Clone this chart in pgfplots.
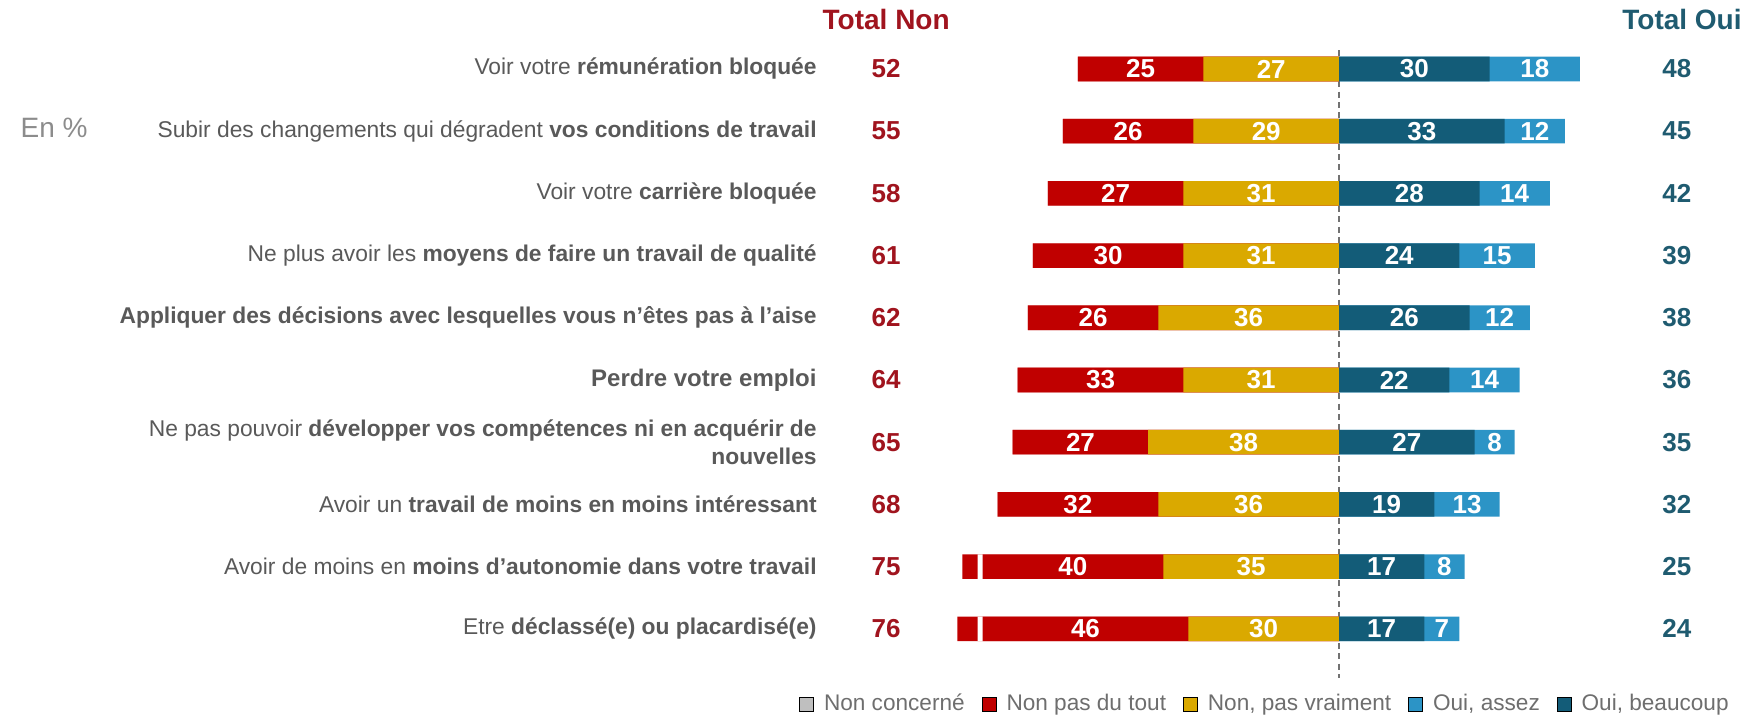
\documentclass[border=0pt]{standalone}
\usepackage{fontspec}
\setmainfont{Liberation Sans}
\usepackage{pgfplots}
\pgfplotsset{compat=1.18}
\usepackage{pgfplotstable}

\definecolor{cRed}{HTML}{C00000}
\definecolor{cGold}{HTML}{DAA900}
\definecolor{cDark}{HTML}{135C78}
\definecolor{cLight}{HTML}{2C94C6}
\definecolor{cNon}{HTML}{A0141E}
\definecolor{cOui}{HTML}{1F5B70}
\definecolor{cTxt}{HTML}{595959}
\definecolor{cLeg}{HTML}{6E6E6E}
\definecolor{cGray}{HTML}{BFBFBF}

% row: position from top; npdt = Non pas du tout; npv = Non, pas vraiment;
% obeau = Oui, beaucoup; oassez = Oui, assez; split = small outer piece of the red bar
\pgfplotstableread{
row npdt npv obeau oassez totnon totoui split gap
1  25 27 30 18 52 48 0 0
2  26 29 33 12 55 45 0 0
3  27 31 28 14 58 42 0 0
4  30 31 24 15 61 39 0 0
5  26 36 26 12 62 38 0 0
6  33 31 22 14 64 36 0 0
7  27 38 27  8 65 35 0 0
8  32 36 19 13 68 32 0 0
9  40 35 17  8 75 25 3 1
10 46 30 17  7 76 24 4 1
}\data

\begin{document}
\begin{tikzpicture}
\begin{axis}[
  scale only axis,
  width=872pt, height=358.5pt,
  xmin=-266.73, xmax=80.68,
  ymin=-0.109, ymax=11.418,
  y dir=reverse,
  axis line style={draw=none},
  xtick=\empty,
  ytick={1,2,3,4,5,6,7,8,9,10},
  yticklabels={
    {Voir votre \textbf{rémunération bloquée}},
    {Subir des changements qui dégradent \textbf{vos conditions de travail}},
    {Voir votre \textbf{carrière bloquée}},
    {Ne plus avoir les \textbf{moyens de faire un travail de qualité}},
    {\textbf{Appliquer des décisions avec lesquelles vous n’êtes pas à l’aise}},
    {\fontsize{12}{14}\selectfont\textbf{Perdre votre emploi}},
    {Ne pas pouvoir \textbf{développer vos compétences ni en acquérir de}\\\textbf{nouvelles}},
    {Avoir un \textbf{travail de moins en moins intéressant}},
    {Avoir de moins en \textbf{moins d’autonomie dans votre travail}},
    {Etre \textbf{déclassé(e) ou placardisé(e)}}
  },
  major tick length=0pt,
  ytick style={draw=none},
  yticklabel style={anchor=east, align=right, inner sep=0pt, xshift=408.5pt,
    font=\fontsize{11.4}{14}\selectfont, text=cTxt},
  clip=false,
  bar width=12.3pt,
  /pgf/number format/assume math mode=true,
  every node near coord/.append style={anchor=center},
  legend columns=5,
  legend image code/.code={\fill[#1] (0pt,-3.5pt) rectangle (7pt,3.5pt);},
  legend style={draw=none, fill=none, inner sep=0pt, at={(axis cs:77.7,11.209)}, anchor=east,
    font=\fontsize{11.3}{13}\selectfont, text=cLeg,
    nodes={inner sep=0pt},
    /tikz/every odd column/.append style={column sep=5pt},
    /tikz/every even column/.append style={column sep=8.5pt},
    /tikz/column 8/.append style={column sep=25pt}},
]
% centre line
\draw[cTxt!85, line width=0.9pt, dash pattern=on 3pt off 2.2pt] (axis cs:0,0.695) -- (axis cs:0,10.79);

% left side (layered from 0)
\addplot[xbar, bar shift=0pt, fill=cRed, draw=none, forget plot]
  table[x expr=-\thisrow{totnon}, y=row]{\data};
\addplot[xbar, bar shift=0pt, fill=white, draw=none, forget plot]
  table[x expr=-(\thisrow{totnon}-\thisrow{split}), y=row]{\data};
\addplot[xbar, bar shift=0pt, fill=cRed, draw=none, forget plot]
  table[x expr=-(\thisrow{totnon}-\thisrow{split}-\thisrow{gap}), y=row]{\data};
\addplot[xbar, bar shift=0pt, fill=cGold, draw=none, forget plot]
  table[x expr=-\thisrow{npv}, y=row]{\data};
% right side
\addplot[xbar, bar shift=0pt, fill=cLight, draw=none, forget plot]
  table[x expr=\thisrow{obeau}+\thisrow{oassez}, y=row]{\data};
\addplot[xbar, bar shift=0pt, fill=cDark, draw=none, forget plot]
  table[x expr=\thisrow{obeau}, y=row]{\data};

% segment labels
\pgfplotsset{every node near coord/.append style={font=\bfseries\fontsize{13}{15}\selectfont, text=white}}
\addplot[draw=none, forget plot, nodes near coords, point meta=explicit]
  table[x expr=-(\thisrow{npv}+(\thisrow{npdt}-\thisrow{split}-\thisrow{gap})/2), y=row, meta=npdt]{\data};
\addplot[draw=none, forget plot, nodes near coords, point meta=explicit]
  table[x expr=-\thisrow{npv}/2, y=row, meta=npv]{\data};
\addplot[draw=none, forget plot, nodes near coords, point meta=explicit]
  table[x expr=\thisrow{obeau}/2, y=row, meta=obeau]{\data};
\addplot[draw=none, forget plot, nodes near coords, point meta=explicit]
  table[x expr=\thisrow{obeau}+\thisrow{oassez}/2, y=row, meta=oassez]{\data};
% totals
\addplot[draw=none, forget plot, nodes near coords, point meta=explicit,
  every node near coord/.append style={text=cNon}]
  table[x expr=-90.2, y=row, meta=totnon]{\data};
\addplot[draw=none, forget plot, nodes near coords, point meta=explicit,
  every node near coord/.append style={text=cOui}]
  table[x expr=67.3, y=row, meta=totoui]{\data};

% headers
\node[font=\bfseries\fontsize{14}{16}\selectfont, text=cNon] at (axis cs:-90.2,0.212) {Total Non};
\node[font=\bfseries\fontsize{14}{16}\selectfont, text=cOui, anchor=east, inner xsep=1pt] at (axis cs:80.68,0.212) {Total Oui};
\node[anchor=west, inner sep=0pt, font=\fontsize{14}{16}\selectfont, text=gray!90] at (axis cs:-262.7,1.949) {En \%};

% legend
\addlegendimage{fill=cGray}
\addlegendentry{Non concerné}
\addlegendimage{fill=cRed}
\addlegendentry{Non pas du tout}
\addlegendimage{fill=cGold}
\addlegendentry{Non, pas vraiment}
\addlegendimage{fill=cLight}
\addlegendentry{Oui, assez}
\addlegendimage{fill=cDark}
\addlegendentry{Oui, beaucoup}
\end{axis}
\end{tikzpicture}
\end{document}
